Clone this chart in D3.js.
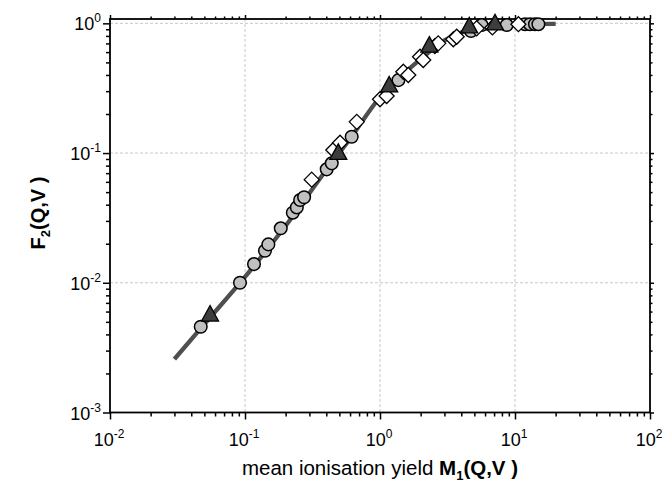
<!DOCTYPE html>
<html>
<head>
<meta charset="utf-8">
<script src="https://cdn.jsdelivr.net/npm/d3@7"></script>
<style>
  body { margin: 0; background: #fff; }
  text { font-family: Arial, "Liberation Sans", sans-serif; }
</style>
</head>
<body>
<div id="chart"></div>
<script>
// decade tick labels
var xTicks = [0.01, 0.1, 1, 10, 100];
var yTicks = [0.001, 0.01, 0.1, 1];

// fitted curve
var curveX = [0.03, 0.05, 0.1, 0.2, 0.4, 0.6, 1.0, 1.5, 2, 3, 4, 5, 7, 10, 20];
var curveY = [0.00258, 0.0048, 0.0111, 0.0275, 0.074, 0.129, 0.27, 0.41, 0.53, 0.74, 0.85, 0.91, 0.965, 0.985, 0.99];

// grey circles
var circX = [0.047, 0.0918, 0.1166, 0.1406, 0.1489, 0.184, 0.226, 0.242, 0.256, 0.274, 0.403, 0.439, 0.617, 1.37, 4.72, 5.66, 8.68, 11.86, 12.9, 14.06, 14.9];
var circY = [0.00458, 0.0100, 0.01393, 0.01766, 0.01977, 0.0263, 0.0347, 0.0381, 0.0435, 0.0456, 0.0749, 0.0833, 0.1336, 0.365, 0.872, 0.97, 0.97, 0.985, 0.985, 0.985, 0.985];

// open diamonds
var diaX = [0.312, 0.451, 0.506, 0.673, 1.0, 1.12, 1.488, 1.62, 1.98, 2.09, 2.55, 2.70, 3.49, 3.70, 5.20, 6.8, 10.6];
var diaY = [0.0624, 0.1055, 0.120, 0.174, 0.26, 0.275, 0.4236, 0.3994, 0.5527, 0.521, 0.668, 0.701, 0.753, 0.788, 0.915, 0.93, 0.985];

// dark triangles
var triX = [0.0551, 0.491, 1.17, 2.32, 4.58, 7.11];
var triY = [0.00564, 0.0995, 0.329, 0.668, 0.94, 0.99];

(function() {
  var W = 665, H = 492;
  var pL = 110, pR = 650, pT = 19, pB = 412.5;

  var svg = d3.select("#chart").append("svg")
    .attr("width", W)
    .attr("height", H);

  var x = d3.scaleLog().domain([0.01, 100]).range([pL, pR]);
  var y = d3.scaleLog().domain([0.001, 1.08]).range([pB, pT]);

  // minor tick values
  function minors(lo, hi) {
    var out = [];
    for (var e = lo; e < hi; e++) {
      for (var m = 2; m <= 9; m++) out.push(m * Math.pow(10, e));
    }
    return out;
  }
  var xMinor = minors(-2, 2);
  var yMinor = minors(-3, 0);

  // grid
  svg.append("g").selectAll("line")
    .data(xTicks.slice(1, -1)).enter().append("line")
    .attr("x1", function(d) { return x(d); })
    .attr("x2", function(d) { return x(d); })
    .attr("y1", pT).attr("y2", pB)
    .attr("stroke", "#c8c8c8").attr("stroke-width", 1)
    .attr("stroke-dasharray", "3,2");
  svg.append("g").selectAll("line")
    .data(yTicks.slice(1)).enter().append("line")
    .attr("x1", pL).attr("x2", pR)
    .attr("y1", function(d) { return y(d); })
    .attr("y2", function(d) { return y(d); })
    .attr("stroke", "#c8c8c8").attr("stroke-width", 1)
    .attr("stroke-dasharray", "3,2");

  // ticks only, labels drawn separately
  function tickAxis(axisFn, scale, vals, size, tx, ty) {
    svg.append("g")
      .attr("transform", "translate(" + tx + "," + ty + ")")
      .call(axisFn(scale).tickValues(vals).tickSize(size).tickFormat(""))
      .call(function(g) {
        g.select(".domain").remove();
        g.selectAll("line").attr("stroke", "#000").attr("stroke-width", 1.5);
      });
  }
  tickAxis(d3.axisBottom, x, xTicks, 7, 0, pB);
  tickAxis(d3.axisBottom, x, xMinor, 4, 0, pB);
  tickAxis(d3.axisLeft, y, yTicks, 7, pL, 0);
  tickAxis(d3.axisLeft, y, yMinor, 4, pL, 0);
  tickAxis(d3.axisTop, x, xTicks, 4, 0, pT);
  tickAxis(d3.axisTop, x, xMinor, 2.5, 0, pT);
  tickAxis(d3.axisRight, y, yTicks, 4, pR, 0);
  tickAxis(d3.axisRight, y, yMinor, 2.5, pR, 0);

  svg.append("rect")
    .attr("x", pL).attr("y", pT)
    .attr("width", pR - pL).attr("height", pB - pT)
    .attr("fill", "none").attr("stroke", "#000").attr("stroke-width", 1.8);

  // tick labels 10^n
  function expOf(v) { return Math.round(Math.log10(v)); }
  var xl = svg.append("g").selectAll("text")
    .data(xTicks).enter().append("text")
    .attr("x", function(d) { return x(d) - 1; })
    .attr("y", 446)
    .attr("text-anchor", "middle")
    .attr("font-size", 18)
    .text("10");
  xl.append("tspan").attr("dy", -8).attr("font-size", 12)
    .text(function(d) { return expOf(d); });

  var yl = svg.append("g").selectAll("text")
    .data(yTicks).enter().append("text")
    .attr("x", 101)
    .attr("y", function(d) { return y(d) + 7; })
    .attr("text-anchor", "end")
    .attr("font-size", 18)
    .text("10");
  yl.append("tspan").attr("dy", -8).attr("font-size", 12)
    .text(function(d) { return expOf(d); });

  // axis titles
  var xt = svg.append("text")
    .attr("x", 380).attr("y", 475)
    .attr("text-anchor", "middle")
    .attr("font-size", 20.5);
  xt.append("tspan").text("mean ionisation yield ");
  xt.append("tspan").attr("font-weight", "bold").text("M");
  xt.append("tspan").attr("font-weight", "bold").attr("font-size", 13).attr("dy", 5).text("1");
  xt.append("tspan").attr("font-weight", "bold").attr("dy", -5).text("(Q,V )");

  var yt = svg.append("text")
    .attr("transform", "translate(45,213) rotate(-90)")
    .attr("text-anchor", "middle")
    .attr("font-size", 20)
    .attr("font-weight", "bold");
  yt.append("tspan").text("F");
  yt.append("tspan").attr("font-size", 13).attr("dy", 5).text("2");
  yt.append("tspan").attr("dy", -5).text("(Q,V )");

  // curve
  var curve = curveX.map(function(d, i) { return [d, curveY[i]]; });
  svg.append("path")
    .datum(curve)
    .attr("fill", "none")
    .attr("stroke", "#4f4f4f")
    .attr("stroke-width", 4.3)
    .attr("d", d3.line()
      .x(function(d) { return x(d[0]); })
      .y(function(d) { return y(d[1]); })
      .curve(d3.curveMonotoneX));

  // markers
  var circ = circX.map(function(d, i) { return [d, circY[i]]; });
  svg.append("g").selectAll("circle")
    .data(circ).enter().append("circle")
    .attr("cx", function(d) { return x(d[0]); })
    .attr("cy", function(d) { return y(d[1]); })
    .attr("r", 6.3)
    .attr("fill", "#c0c0c0")
    .attr("stroke", "#000")
    .attr("stroke-width", 1.5);

  var dia = diaX.map(function(d, i) { return [d, diaY[i]]; });
  svg.append("g").selectAll("path")
    .data(dia).enter().append("path")
    .attr("d", "M0,-7.5L7.5,0L0,7.5L-7.5,0Z")
    .attr("transform", function(d) { return "translate(" + x(d[0]) + "," + y(d[1]) + ")"; })
    .attr("fill", "#fff")
    .attr("stroke", "#000")
    .attr("stroke-width", 1.3);

  var tri = triX.map(function(d, i) { return [d, triY[i]]; });
  svg.append("g").selectAll("path")
    .data(tri).enter().append("path")
    .attr("d", "M0,-9.5L8.5,6L-8.5,6Z")
    .attr("transform", function(d) { return "translate(" + x(d[0]) + "," + y(d[1]) + ")"; })
    .attr("fill", "#3d3d3d")
    .attr("stroke", "#000")
    .attr("stroke-width", 1.3);
})();
</script>
</body>
</html>
